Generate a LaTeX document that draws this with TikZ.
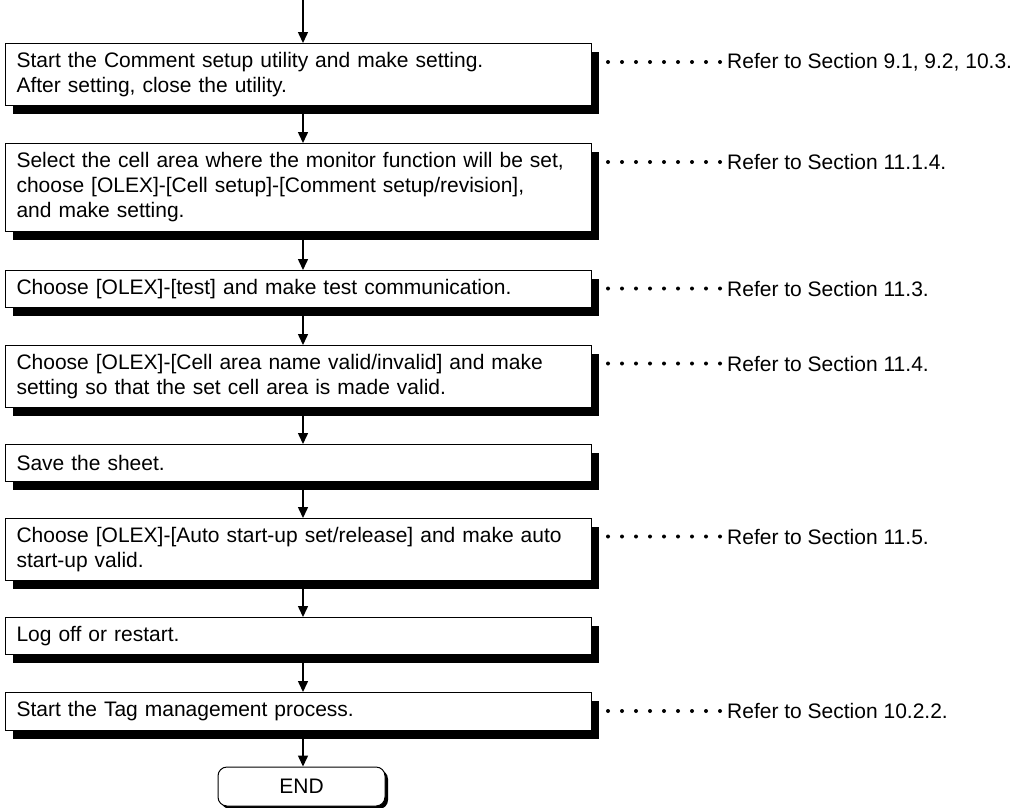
\documentclass[tikz,border=0pt]{standalone}
\usepackage{fontspec}
\setmainfont{Liberation Sans}
\usetikzlibrary{arrows.meta,shadows}
\begin{document}
\begin{tikzpicture}[x=1pt,y=-1pt,
  txt/.style={font=\fontsize{21}{25}\selectfont},
  box/.style={txt,draw=black,line width=1pt,fill=white,anchor=north west,
    text width=564pt,inner xsep=11pt,inner ysep=0pt,align=left,
    drop shadow={shadow xshift=7pt,shadow yshift=-8pt,fill=black,opacity=1}},
  endbox/.style={txt,draw=black,line width=1pt,fill=white,rounded corners=9pt,
    minimum width=167pt,minimum height=39pt,inner sep=0pt,
    drop shadow={shadow xshift=3pt,shadow yshift=-3pt,fill=black,opacity=1}},
  ref/.style={txt,anchor=west,inner xsep=3pt,inner ysep=0pt},
  arr/.style={line width=1.5pt,-{Triangle[width=10pt,length=11pt]}},
  dots/.style={line width=4pt,line cap=round,dash pattern=on 0pt off 14pt,shorten <=16pt}]
\useasboundingbox (0,0) rectangle (1018,807);
\coordinate (top) at (303,0);

\node[box,minimum height=62pt] (b1) at (5,43)
  {Start the Comment setup utility and make setting.\\After setting, close the utility.};
\node[box,minimum height=88pt] (b2) at (5,143)
  {Select the cell area where the monitor function will be set,\\choose [OLEX]-[Cell setup]-[Comment setup/revision],\\and make setting.};
\node[box,minimum height=37pt] (b3) at (5,270)
  {Choose [OLEX]-[test] and make test communication.};
\node[box,minimum height=62pt] (b4) at (5,345)
  {Choose [OLEX]-[Cell area name valid/invalid] and make\\setting so that the set cell area is made valid.};
\node[box,minimum height=37pt] (b5) at (5,444)
  {Save the sheet.};
\node[box,minimum height=62pt] (b6) at (5,518)
  {Choose [OLEX]-[Auto start-up set/release] and make auto\\start-up valid.};
\node[box,minimum height=37pt] (b7) at (5,617)
  {Log off or restart.};
\node[box,minimum height=38pt] (b8) at (5,692)
  {Start the Tag management process.};
\node[endbox] (e) at (301.5,786.5) {END};

\draw[arr] (top) -- (b1.north -| top);
\draw[arr] (b1.south -| top) -- (b2.north -| top);
\draw[arr] (b2.south -| top) -- (b3.north -| top);
\draw[arr] (b3.south -| top) -- (b4.north -| top);
\draw[arr] (b4.south -| top) -- (b5.north -| top);
\draw[arr] (b5.south -| top) -- (b6.north -| top);
\draw[arr] (b6.south -| top) -- (b7.north -| top);
\draw[arr] (b7.south -| top) -- (b8.north -| top);
\draw[arr] (b8.south -| top) -- (e.north -| top);

\node[ref] (r1) at (724,62) {Refer to Section 9.1, 9.2, 10.3.};
\node[ref] (r2) at (724,162) {Refer to Section 11.1.4.};
\node[ref] (r3) at (724,288.5) {Refer to Section 11.3.};
\node[ref] (r4) at (724,363.5) {Refer to Section 11.4.};
\node[ref] (r6) at (724,536.5) {Refer to Section 11.5.};
\node[ref] (r8) at (724,711) {Refer to Section 10.2.2.};

\draw[dots] (b1.east |- r1.west) -- (r1.west);
\draw[dots] (b2.east |- r2.west) -- (r2.west);
\draw[dots] (b3.east |- r3.west) -- (r3.west);
\draw[dots] (b4.east |- r4.west) -- (r4.west);
\draw[dots] (b6.east |- r6.west) -- (r6.west);
\draw[dots] (b8.east |- r8.west) -- (r8.west);
\end{tikzpicture}
\end{document}
